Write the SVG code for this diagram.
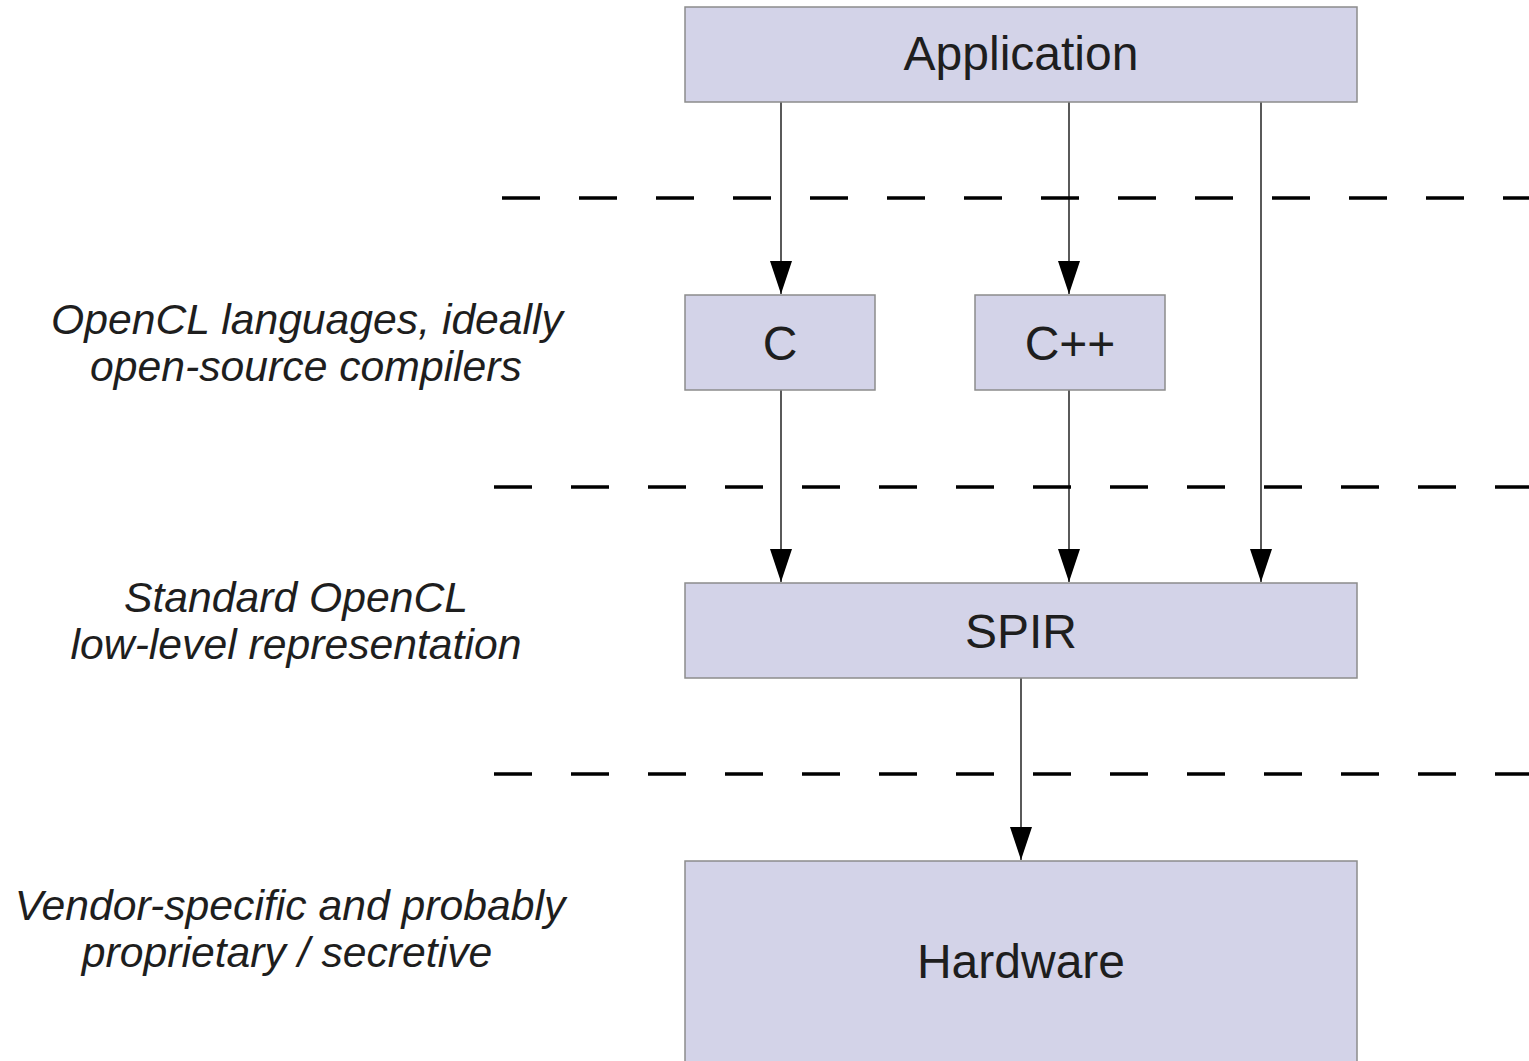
<svg xmlns="http://www.w3.org/2000/svg" width="1529" height="1061" viewBox="0 0 1529 1061">
  <style>
    .box { fill: #d3d3e8; stroke: #8c8c8c; stroke-width: 1.5; }
    .label { font-family: "Liberation Sans", Arial, sans-serif; font-size: 48px; fill: #1e1e1e; text-anchor: middle; }
    .note { font-family: "Liberation Sans", Arial, sans-serif; font-size: 42.7px; font-style: italic; fill: #1e1e1e; text-anchor: middle; }
    .sep { stroke: #000; stroke-width: 3.5; stroke-dasharray: 38 39; fill: none; }
    .edge { stroke: #000; stroke-width: 1.3; fill: none; marker-end: url(#arrow); }
  </style>
  <defs>
    <marker id="arrow" markerUnits="userSpaceOnUse" viewBox="0 -12 34 24" refX="33" refY="0" markerWidth="34" markerHeight="24" orient="auto">
      <path d="M0,-11 L33,0 L0,11 z" fill="#000"/>
    </marker>
  </defs>

  <!-- layer separators -->
  <g id="separators">
    <line class="sep" x1="502" y1="198" x2="1529" y2="198"/>
    <line class="sep" x1="494" y1="487" x2="1529" y2="487"/>
    <line class="sep" x1="494" y1="774" x2="1529" y2="774"/>
  </g>

  <!-- layer descriptions -->
  <g id="notes">
    <text class="note" x="307" y="334">OpenCL languages, ideally</text>
    <text class="note" x="306" y="381">open-source compilers</text>
    <text class="note" x="296" y="612">Standard OpenCL</text>
    <text class="note" x="296" y="659">low-level representation</text>
    <text class="note" x="290" y="920">Vendor-specific and probably</text>
    <text class="note" x="287" y="967">proprietary / secretive</text>
  </g>

  <g id="connectors">
    <line class="edge" x1="781" y1="102" x2="781" y2="294"/>
    <line class="edge" x1="1069" y1="102" x2="1069" y2="294"/>
    <line class="edge" x1="1261" y1="102" x2="1261" y2="582"/>
    <line class="edge" x1="781" y1="390" x2="781" y2="582"/>
    <line class="edge" x1="1069" y1="390" x2="1069" y2="582"/>
    <line class="edge" x1="1021" y1="678" x2="1021" y2="860"/>
  </g>

  <g id="application">
    <rect class="box" x="685" y="7" width="672" height="95"/>
    <text class="label" x="1021" y="70">Application</text>
  </g>
  <g id="lang-c">
    <rect class="box" x="685" y="295" width="190" height="95"/>
    <text class="label" x="780" y="360">C</text>
  </g>
  <g id="lang-cpp">
    <rect class="box" x="975" y="295" width="190" height="95"/>
    <text class="label" x="1070" y="360">C++</text>
  </g>
  <g id="spir">
    <rect class="box" x="685" y="583" width="672" height="95"/>
    <text class="label" x="1021" y="648">SPIR</text>
  </g>
  <g id="hardware">
    <rect class="box" x="685" y="861" width="672" height="215"/>
    <text class="label" x="1021" y="978">Hardware</text>
  </g>
</svg>
